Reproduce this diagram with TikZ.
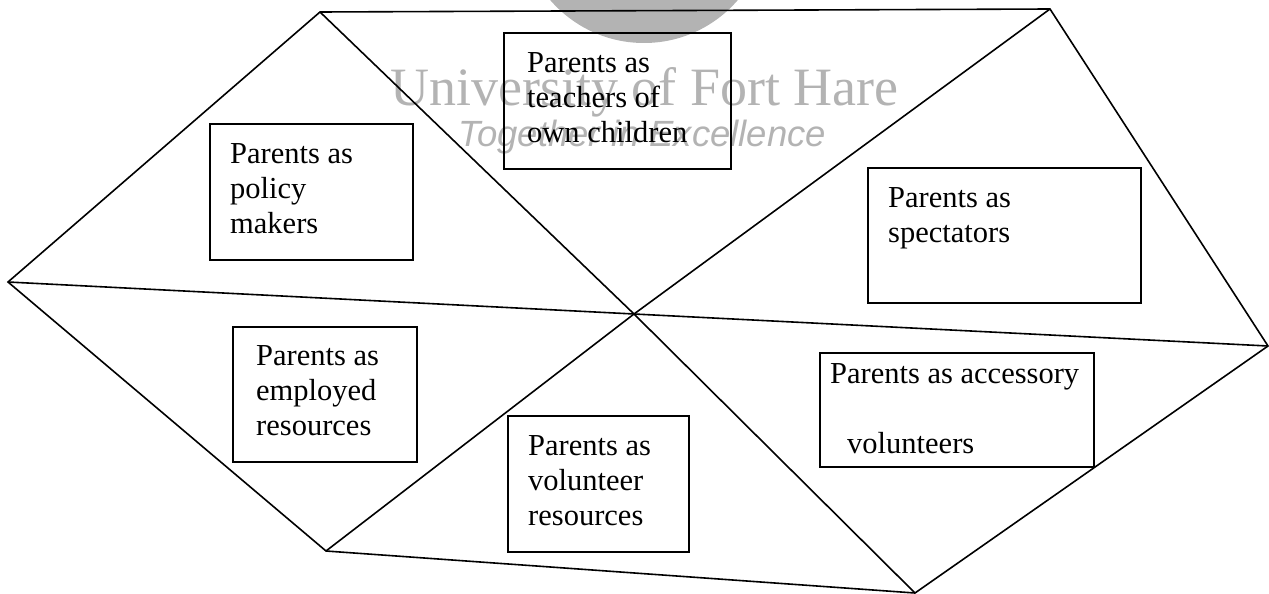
\documentclass[tikz,border=0pt]{standalone}
\usepackage{fontspec}
\setmainfont{Liberation Serif}
\newfontfamily\marksans{Liberation Sans}
\usetikzlibrary{calc}
\definecolor{markgray}{HTML}{B3B3B3}
\begin{document}
\begin{tikzpicture}[x=1pt,y=-1pt,
  edge/.style={line width=1.6pt, line join=miter},
  box/.style={draw, line width=1.6pt, inner sep=0pt, anchor=north west},
  lbl/.style={anchor=north west, inner sep=0pt, align=left,
    font=\fontsize{30.5}{35}\selectfont},
  wmtext/.style={anchor=base west, inner sep=0pt, text=markgray}]
\useasboundingbox (0,0) rectangle (1269,594);

% watermark: seal and university name
\begin{scope}
  \clip (0,0) rectangle (1269,594);
  \fill[markgray] (644,-81) circle[radius=124];
\end{scope}
\node[wmtext, font=\fontsize{54}{54}\selectfont] (wmname) at (390,105)
  {University of Fort Hare};
\node[wmtext, font=\marksans\itshape\fontsize{36.5}{36.5}\selectfont] (wmmotto)
  at (458,146) {Together in Excellence};

% hexagon corners and centre
\coordinate (TL) at (320,12);
\coordinate (TR) at (1050,9);
\coordinate (R)  at (1268,346);
\coordinate (BR) at (915,593);
\coordinate (BL) at (326,551);
\coordinate (L)  at (8,282);
\coordinate (C)  at (634,314);

\draw[edge] (TL) -- (TR) -- (R) -- (BR) -- (BL) -- (L) -- cycle;
\draw[edge] (TL) -- (C) -- (BR);
\draw[edge] (TR) -- (C) -- (BL);
\draw[edge] (L) -- (C) -- (R);

% role boxes
\node[box, minimum width=203, minimum height=136] (policy)     at (209,123) {};
\node[box, minimum width=227, minimum height=136] (teachers)   at (503,32)  {};
\node[box, minimum width=273, minimum height=135] (spectators) at (867,167) {};
\node[box, minimum width=184, minimum height=135] (employed)   at (232,326) {};
\node[box, minimum width=181, minimum height=136] (volunteer)  at (507,415) {};
\node[box, minimum width=274, minimum height=114] (accessory)  at (819,352) {};

\node[lbl] (policytxt)     at ($(policy.north west)+(21,20)$)     {Parents as\\policy\\makers};
\node[lbl] (teacherstxt)   at ($(teachers.north west)+(24,20)$)   {Parents as\\teachers of\\own children};
\node[lbl] (spectatorstxt) at ($(spectators.north west)+(21,20)$) {Parents as\\spectators};
\node[lbl] (employedtxt)   at ($(employed.north west)+(24,19)$)   {Parents as\\employed\\resources};
\node[lbl] (volunteertxt)  at ($(volunteer.north west)+(21,20)$)  {Parents as\\volunteer\\resources};
\node[lbl] (accessorytxt)  at ($(accessory.north west)+(11,11)$)  {Parents as accessory\\[35pt]\hspace*{17pt}volunteers};
\end{tikzpicture}
\end{document}
